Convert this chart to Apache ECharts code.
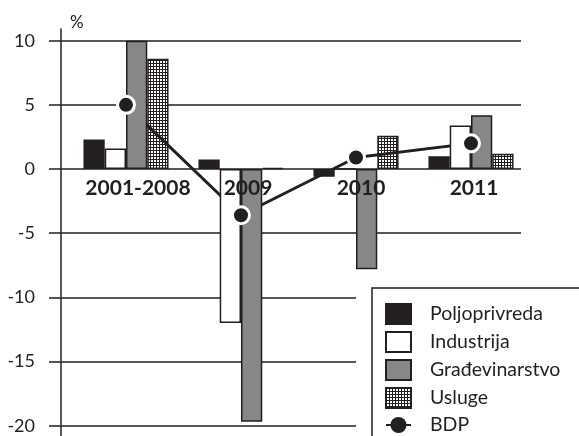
<!DOCTYPE html>
<html>
<head>
<meta charset="utf-8">
<script src="https://cdn.jsdelivr.net/npm/echarts@6/dist/echarts.min.js"></script>
<style>
  html, body { margin: 0; padding: 0; background: #fff; }
  #chart { width: 579px; height: 436px; }
</style>
</head>
<body>
<div id="chart"></div>
<script>
const categories = ['2001-2008', '2009', '2010', '2011']
const poljoprivreda = [2.3, 0.75, -0.6, 1.0]
const industrija = [1.6, -12.0, 0, 3.4]
const gradjevinarstvo = [10.0, -19.7, -7.8, 4.2]
const usluge = [8.6, 0.1, 2.6, 1.2]
const bdp = [5.0, -3.6, 0.9, 2.0]
const yTicks = [-20, -15, -10, -5, 0, 5, 10]

const INK = '#231f20'
const GREY = '#878787'
const FONT = 'Lato, "Open Sans", sans-serif'

const PLOT_H = 385
const yMin = yTicks[0]
const yMax = yTicks[yTicks.length - 1]
// distance from the bottom of the plot up to the zero line
const zeroOffset = PLOT_H * (0 - yMin) / (yMax - yMin)

// fine black/white grid used for the "Usluge" bars
function hatch() {
  const c = document.createElement('canvas')
  c.width = 3
  c.height = 3
  const g = c.getContext('2d')
  g.fillStyle = INK
  g.fillRect(0, 0, 3, 3)
  g.fillStyle = '#fff'
  g.fillRect(1, 1, 2, 2)
  return { image: c, repeat: 'repeat' }
}

const labelShift = [24, 14, 10, 6]
const rich = {}
labelShift.forEach((p, i) => {
  rich['s' + i] = {
    fontFamily: FONT, fontSize: 21, fontWeight: 'bold', color: INK,
    padding: [0, 0, 0, p]
  }
})

const bar = (name, data, fill, z) => ({
  name,
  type: 'bar',
  xAxisIndex: 0,
  yAxisIndex: 0,
  data,
  z,
  barGap: '0%',
  barCategoryGap: '26%',
  itemStyle: { color: fill, borderColor: INK, borderWidth: 1.5 }
})

const hidden = {
  axisLine: { show: false },
  axisTick: { show: false },
  axisLabel: { show: false },
  splitLine: { show: false }
}

const chart = echarts.init(document.getElementById('chart'))
chart.setOption({
  animation: false,
  backgroundColor: '#fff',
  grid: [
    { left: 68.5, top: 40.7, width: 460, height: PLOT_H, outerBoundsMode: 'none' },
    { left: 61, top: 40.7, width: 460, height: PLOT_H, outerBoundsMode: 'none' },
    { left: 61, top: 29, width: 460, height: 407, outerBoundsMode: 'none' }
  ],
  xAxis: [
    {
      type: 'category',
      gridIndex: 0,
      position: 'bottom',
      offset: -zeroOffset,
      data: categories,
      z: 6,
      axisLine: { show: false, onZero: false },
      axisTick: { show: false },
      axisLabel: {
        margin: 9,
        formatter: (v, i) => '{s' + i + '|' + v + '}',
        rich
      }
    },
    { type: 'value', gridIndex: 1, min: 0, max: 1, ...hidden },
    { type: 'value', gridIndex: 2, min: 0, max: 1, ...hidden }
  ],
  yAxis: [
    { type: 'value', gridIndex: 0, min: yMin, max: yMax, ...hidden },
    {
      type: 'value',
      gridIndex: 1,
      min: yMin,
      max: yMax,
      interval: 5,
      axisLine: { show: false },
      axisTick: { show: true, length: 12, lineStyle: { color: INK, width: 1.5 } },
      splitLine: { show: true, lineStyle: { color: INK, width: 1.5 } },
      axisLabel: { margin: 26, fontFamily: FONT, fontSize: 18, color: INK }
    },
    {
      type: 'value',
      gridIndex: 2,
      min: 0,
      max: 1,
      name: '%',
      nameLocation: 'end',
      nameGap: 6,
      nameTextStyle: {
        fontFamily: FONT, fontSize: 17, color: INK,
        align: 'left', verticalAlign: 'middle', padding: [0, 0, 0, 9]
      },
      axisLine: { show: true, onZero: false, lineStyle: { color: INK, width: 1.5 } },
      axisTick: { show: false },
      axisLabel: { show: false },
      splitLine: { show: false }
    }
  ],
  graphic: [{
    type: 'rect',
    z: 3,
    shape: { x: 356, y: 272, width: 240, height: 200 },
    style: { fill: '#fff' }
  }],
  legend: {
    z: 4,
    orient: 'vertical',
    left: 372,
    top: 288,
    height: 220,
    padding: [15, 30, 30, 13],
    borderColor: INK,
    borderWidth: 1.5,
    itemWidth: 25,
    itemHeight: 20,
    itemGap: 6,
    textStyle: { fontFamily: FONT, fontSize: 19.5, color: INK, padding: [0, 0, 0, 14] },
    data: [
      { name: 'Poljoprivreda', icon: 'rect' },
      { name: 'Industrija', icon: 'rect' },
      { name: 'Građevinarstvo', icon: 'rect' },
      { name: 'Usluge', icon: 'rect' },
      { name: 'BDP' }
    ]
  },
  series: [
    bar('Poljoprivreda', poljoprivreda, INK, 2),
    bar('Industrija', industrija, '#fff', 3),
    bar('Građevinarstvo', gradjevinarstvo, GREY, 3),
    bar('Usluge', usluge, hatch(), 2),
    {
      name: 'BDP',
      type: 'line',
      xAxisIndex: 0,
      yAxisIndex: 0,
      data: bdp,
      z: 2,
      symbol: 'circle',
      symbolSize: 11,
      showSymbol: false,
      lineStyle: { color: INK, width: 3 },
      itemStyle: { color: INK }
    },
    {
      type: 'scatter',
      xAxisIndex: 0,
      yAxisIndex: 0,
      data: bdp,
      z: 4,
      symbolSize: 17,
      itemStyle: { color: INK, opacity: 1, borderColor: '#fff', borderWidth: 3 }
    }
  ]
})
</script>
</body>
</html>
